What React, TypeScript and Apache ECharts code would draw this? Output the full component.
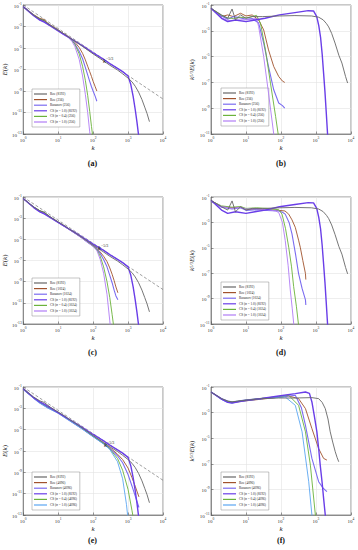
import React, { useEffect, useRef } from "react";
import * as echarts from "echarts";

// ---------- data: panel (a) E(k), 256 ----------
const A_K8192 = [1, 2, 3, 4, 6, 10, 15, 20, 30, 50, 100, 200, 300, 500, 700, 1000, 1300, 1600, 2000, 2500, 3000, 3500, 4096];
const A_roe8192 = [7.08e-2, 1.12e-2, 5.01e-3, 3.55e-3, 1.26e-3, 4.47e-4, 2.0e-4, 1.0e-4, 4.47e-5, 1.41e-5, 2.82e-6, 6.31e-7, 2.51e-7, 8.91e-8, 3.98e-8, 1.58e-8, 7.08e-9, 2.82e-9, 7.94e-10, 1.58e-10, 3.16e-11, 7.94e-12, 1.41e-12];
const A_K8192cs = [1, 2, 3, 4, 6, 10, 15, 20, 30, 50, 100, 200, 300, 500, 700, 1000, 1200, 1400, 1600, 1800, 2000];
const A_cs8192 = [7.08e-2, 1.0e-2, 3.98e-3, 2.51e-3, 1.12e-3, 3.98e-4, 1.78e-4, 1.0e-4, 4.47e-5, 1.58e-5, 3.55e-6, 8.91e-7, 3.55e-7, 1.26e-7, 6.31e-8, 2.51e-8, 3.98e-9, 3.16e-10, 2.0e-11, 1.26e-12, 7.94e-14];
const A_K256 = [1, 2, 3, 4, 5, 6, 8, 10, 12, 15, 20, 25, 30, 40, 50, 60, 70, 80, 90, 100, 115, 128];
const A_roe256 = [7.08e-2, 1.26e-2, 5.62e-3, 4.47e-3, 2.0e-3, 1.41e-3, 7.94e-4, 5.01e-4, 3.16e-4, 2.0e-4, 1.12e-4, 6.31e-5, 3.55e-5, 1.12e-5, 3.16e-6, 7.94e-7, 2.0e-7, 6.31e-8, 2.24e-8, 7.94e-9, 2.51e-9, 1.0e-9];
const A_rus256 = [7.08e-2, 1.12e-2, 4.47e-3, 3.16e-3, 1.78e-3, 1.26e-3, 7.08e-4, 4.47e-4, 2.82e-4, 1.78e-4, 1.0e-4, 5.01e-5, 2.51e-5, 5.01e-6, 1.0e-6, 1.58e-7, 3.16e-8, 7.94e-9, 2.51e-9, 1.0e-9, 3.16e-10, 1.12e-10];
const A_K256s = [1, 2, 3, 4, 5, 6, 8, 10, 12, 15, 20, 25, 30, 40, 50, 60, 70, 80, 90, 100];
const A_cs04_256 = [7.08e-2, 1.12e-2, 5.01e-3, 3.55e-3, 1.78e-3, 1.26e-3, 7.08e-4, 4.47e-4, 2.82e-4, 1.78e-4, 1.0e-4, 5.01e-5, 2.24e-5, 2.82e-6, 2.0e-7, 1.0e-8, 3.98e-10, 1.26e-11, 5.01e-13, 3.16e-14];
const A_cs10_256 = [7.08e-2, 1.0e-2, 3.98e-3, 2.82e-3, 1.58e-3, 1.12e-3, 6.31e-4, 3.98e-4, 2.51e-4, 1.58e-4, 8.91e-5, 3.98e-5, 1.41e-5, 8.91e-7, 2.51e-8, 5.01e-10, 1.0e-11, 1.58e-13, 1.0e-14];

// ---------- panel (b) compensated, 256 ----------
const B_K8192 = [1, 2, 3, 4, 5, 7, 10, 15, 30, 90, 250, 750, 1200, 1600, 2000, 2300, 2800, 3500, 4500, 5500, 7000, 8000];
const B_roe8192 = [5.5e-2, 1.7e-2, 9.33e-3, 4.9e-2, 6.92e-3, 1.7e-2, 9.33e-3, 1.26e-2, 1.26e-2, 1.41e-2, 1.51e-2, 1.41e-2, 1.12e-2, 7.08e-3, 3.55e-3, 2.0e-3, 6.31e-4, 1.12e-4, 1.26e-5, 3.16e-6, 2.82e-7, 8.91e-8];
const B_K8192cs = [1, 2, 3, 5, 10, 18, 35, 90, 250, 600, 850, 1050, 1200, 1350, 1500, 1650, 1800, 1950, 2150];
const B_cs8192 = [5.5e-2, 9.33e-3, 5.13e-3, 6.92e-3, 5.13e-3, 6.92e-3, 9.33e-3, 1.7e-2, 2.57e-2, 3.63e-2, 3.47e-2, 1.26e-2, 2.51e-3, 3.16e-4, 1.58e-5, 5.01e-7, 2.0e-8, 6.31e-10, 7.94e-12];
const B_K256 = [1, 2, 3, 4.4, 7, 10, 15, 23, 32, 44, 62, 86, 110, 128];
const B_roe256 = [5.5e-2, 1.26e-2, 1.7e-2, 1.26e-2, 2.29e-2, 1.41e-2, 1.7e-2, 6.92e-3, 1.17e-3, 3.31e-5, 1.7e-6, 2.88e-7, 1.26e-7, 1.0e-7];
const B_rus256 = [5.5e-2, 1.41e-2, 7.94e-3, 1.26e-2, 1.0e-2, 7.94e-3, 8.91e-3, 3.98e-3, 1.1e-4, 1.7e-6, 2.69e-8, 2.51e-9, 1.58e-9, 1.0e-9];
const B_K256s = [1, 2, 3, 4.4, 7, 10, 15, 20, 26, 36, 50, 70, 83, 90];
const B_cs04_256 = [5.5e-2, 1.58e-2, 1.0e-2, 8.91e-3, 1.12e-2, 1.0e-2, 1.26e-2, 1.58e-2, 3.8e-3, 3.31e-5, 8.71e-8, 2.34e-10, 1.0e-11, 2.51e-12];
const B_K256v = [1, 2, 3, 4.4, 7, 10, 15, 20, 23, 32, 44, 62, 70];
const B_cs10_256 = [5.5e-2, 1.0e-2, 6.31e-3, 6.31e-3, 7.08e-3, 7.08e-3, 7.94e-3, 9.33e-3, 2.09e-3, 1.0e-5, 1.48e-8, 1.0e-11, 1.58e-12];

// ---------- panel (c) E(k), 1024 ----------
const C_K1024 = [1, 2, 3, 4, 6, 10, 15, 20, 30, 50, 70, 100, 130, 160, 200, 250, 300, 350, 400, 450, 512];
const C_roe1024 = [7.08e-2, 1.12e-2, 4.79e-3, 3.16e-3, 1.26e-3, 4.17e-4, 1.78e-4, 9.55e-5, 3.98e-5, 1.26e-5, 5.62e-6, 2.51e-6, 1.26e-6, 6.31e-7, 2.51e-7, 7.94e-8, 2.0e-8, 5.01e-9, 1.26e-9, 3.16e-10, 8.91e-11];
const C_rus1024 = [7.08e-2, 1.12e-2, 4.47e-3, 3.16e-3, 1.26e-3, 3.98e-4, 1.78e-4, 9.55e-5, 3.98e-5, 1.26e-5, 5.37e-6, 2.4e-6, 1.12e-6, 4.47e-7, 1.26e-7, 2.51e-8, 3.98e-9, 7.94e-10, 1.58e-10, 4.47e-11, 2.0e-11];
const C_K1024s = [1, 2, 3, 4, 6, 10, 15, 20, 30, 50, 70, 100, 130, 160, 200, 250, 300, 350, 380, 400];
const C_cs04_1024 = [7.08e-2, 1.12e-2, 5.01e-3, 3.55e-3, 1.26e-3, 4.17e-4, 1.78e-4, 9.55e-5, 3.98e-5, 1.26e-5, 5.37e-6, 2.24e-6, 1.0e-6, 2.51e-7, 2.51e-8, 1.0e-9, 3.16e-11, 7.94e-13, 1.0e-13, 2.51e-14];
const C_K1024v = [1, 2, 3, 4, 6, 10, 15, 20, 30, 50, 70, 100, 130, 160, 200, 250, 300, 320];
const C_cs10_1024 = [7.08e-2, 1.0e-2, 3.98e-3, 2.82e-3, 1.12e-3, 3.8e-4, 1.66e-4, 8.91e-5, 3.8e-5, 1.2e-5, 5.01e-6, 2.14e-6, 7.94e-7, 1.26e-7, 6.31e-9, 6.31e-11, 2.0e-13, 2.51e-14];

// ---------- panel (d) compensated, 1024 ----------
const D_K1024 = [1, 2, 4, 7, 10, 20, 40, 86, 130, 166, 206, 256, 318, 355, 420, 500, 512];
const D_roe1024 = [4.9e-2, 1.78e-2, 1.41e-2, 1.58e-2, 1.0e-2, 1.12e-2, 1.0e-2, 8.91e-3, 7.94e-3, 4.47e-3, 1.58e-3, 4.07e-4, 3.98e-5, 1.12e-5, 1.0e-6, 9.33e-8, 3.16e-8];
const D_K1024r = [1, 2, 4, 7, 10, 20, 40, 86, 110, 132, 170, 206, 260, 318, 400, 500, 512];
const D_rus1024 = [4.9e-2, 1.58e-2, 1.12e-2, 1.41e-2, 8.91e-3, 1.0e-2, 8.91e-3, 7.94e-3, 6.31e-3, 4.47e-3, 1.0e-3, 1.23e-4, 3.16e-6, 9.33e-8, 6.31e-9, 7.94e-10, 3.16e-10];
const D_K1024g = [1, 2, 4, 7, 10, 20, 40, 86, 107, 135, 166, 200, 230, 275, 318];
const D_cs04_1024 = [4.9e-2, 2.0e-2, 1.58e-2, 1.78e-2, 1.26e-2, 1.41e-2, 1.26e-2, 1.0e-2, 4.47e-3, 3.16e-4, 1.12e-5, 3.16e-7, 8.71e-9, 2.51e-10, 7.94e-12];
const D_K1024v = [1, 2, 4, 7, 10, 20, 40, 70, 86, 110, 132, 160, 184, 210, 235];
const D_cs10_1024 = [4.9e-2, 1.78e-2, 1.26e-2, 1.58e-2, 1.12e-2, 1.26e-2, 1.0e-2, 7.94e-3, 6.03e-3, 1.0e-3, 3.72e-5, 3.98e-7, 4.79e-9, 1.58e-10, 6.31e-12];

// ---------- panel (e) E(k), 4096 ----------
const E_K4096 = [1, 2, 3, 5, 10, 20, 30, 50, 100, 200, 300, 500, 700, 1000, 1300, 1600, 2048];
const E_roe4096 = [6.03e-2, 1.0e-2, 3.55e-3, 1.26e-3, 3.98e-4, 8.91e-5, 3.8e-5, 1.26e-5, 2.51e-6, 5.37e-7, 2.09e-7, 5.01e-8, 1.58e-8, 2.51e-9, 3.16e-10, 5.01e-11, 5.01e-12];
const E_rus4096 = [6.03e-2, 8.91e-3, 3.16e-3, 1.12e-3, 3.55e-4, 7.94e-5, 3.39e-5, 1.12e-5, 2.24e-6, 5.01e-7, 1.78e-7, 3.55e-8, 7.94e-9, 6.31e-10, 5.01e-11, 6.31e-12, 5.01e-13];
const E_K4096s = [1, 2, 3, 5, 10, 20, 30, 50, 100, 200, 300, 500, 700, 1000, 1300, 1450];
const E_cs04_4096 = [6.03e-2, 1.0e-2, 3.55e-3, 1.26e-3, 3.98e-4, 8.91e-5, 3.8e-5, 1.2e-5, 2.4e-6, 5.01e-7, 1.58e-7, 2.0e-8, 1.58e-9, 2.51e-11, 2.51e-13, 3.16e-14];
const E_K4096v = [1, 2, 3, 5, 10, 20, 30, 50, 100, 200, 300, 500, 700, 900, 1000];
const E_cs10_4096 = [6.03e-2, 8.91e-3, 3.16e-3, 1.12e-3, 3.55e-4, 7.94e-5, 3.39e-5, 1.12e-5, 2.24e-6, 4.47e-7, 1.41e-7, 1.0e-8, 2.51e-10, 1.0e-12, 3.98e-14];

// ---------- panel (f) compensated, 4096 ----------
const F_K8192 = [1, 2, 3, 4, 6, 10, 28, 86, 256, 764, 1190, 1500, 1840, 2200, 2550, 3000, 3550, 4000, 4460];
const F_roe8192 = [4.07e-2, 1.23e-2, 7.94e-3, 6.76e-3, 7.94e-3, 9.12e-3, 1.23e-2, 1.38e-2, 1.38e-2, 1.48e-2, 1.23e-2, 6.31e-3, 2.04e-3, 3.16e-4, 3.16e-5, 5.01e-6, 8.71e-7, 3.16e-7, 1.45e-7];
const F_K8192cs = [1, 2, 3, 4, 6, 10, 28, 86, 256, 500, 650, 764, 900, 1060, 1200, 1320, 1500, 1650, 1840, 1950];
const F_cs8192 = [4.07e-2, 1.12e-2, 6.31e-3, 5.62e-3, 7.08e-3, 8.91e-3, 1.26e-2, 2.0e-2, 3.02e-2, 4.07e-2, 3.16e-2, 6.76e-3, 5.01e-4, 3.16e-5, 1.26e-6, 7.94e-8, 3.16e-9, 2.0e-10, 1.0e-11, 2.51e-12];
const F_K4096 = [1, 2, 3, 4, 6, 10, 28, 86, 166, 318, 500, 764, 1190, 1650, 2048];
const F_roe4096 = [4.07e-2, 1.12e-2, 7.08e-3, 6.31e-3, 7.08e-3, 8.32e-3, 1.12e-2, 1.58e-2, 2.0e-2, 1.23e-2, 2.04e-3, 5.62e-5, 1.55e-6, 2.63e-7, 1.95e-7];
const F_K4096r = [1, 2, 3, 4, 6, 10, 28, 86, 256, 380, 500, 764, 1190, 1600, 2048];
const F_rus4096 = [4.07e-2, 1.26e-2, 7.94e-3, 7.08e-3, 7.94e-3, 1.0e-2, 1.26e-2, 1.58e-2, 2.24e-2, 2.51e-3, 1.02e-4, 2.63e-7, 3.98e-9, 1.26e-9, 6.61e-10];
const F_K4096g = [1, 2, 3, 4, 6, 10, 28, 86, 166, 318, 500, 690, 960, 1050];
const F_cs04_4096 = [4.07e-2, 1.2e-2, 7.59e-3, 6.61e-3, 7.94e-3, 9.55e-3, 1.32e-2, 1.78e-2, 2.24e-2, 3.72e-3, 3.16e-5, 7.94e-8, 1.0e-11, 1.58e-12];
const F_K4096v = [1, 2, 3, 4, 6, 10, 28, 86, 132, 256, 400, 620, 764, 820];
const F_cs10_4096 = [4.07e-2, 1.07e-2, 6.31e-3, 5.62e-3, 7.08e-3, 8.71e-3, 1.2e-2, 1.58e-2, 1.66e-2, 3.72e-3, 3.16e-5, 3.98e-9, 1.0e-11, 1.58e-12];

// reference slope line (dashed)
const REF_K = [1, 10000];
const REF_E = [1.0e-1, 1.8e-10];

// legend names
const names = (n: string) => [
  "Roe (8192)",
  `Roe (${n})`,
  `Rusanov (${n})`,
  "CS (σ = 1.0) (8192)",
  `CS (σ = 0.4) (${n})`,
  `CS (σ = 1.0) (${n})`,
];
const N256 = names("256");
const N1024 = names("1024");
const N4096 = names("4096");

const SERIF = '"Liberation Serif", "DejaVu Serif", serif';
const C_ROEHI = "#676767";
const C_ROELO = "#a0522d";
const C_RUS = "#7b6cf0";
const C_CSHI = "#6a3ee8";
const C_CS04 = "#6bb23a";
const C_CS10V = "#b07cf5";
const C_CS10B = "#5aa6f2";

type Curve = { name: string; color: string; width: number; k: number[]; v: number[] };

const zip = (k: number[], v: number[]) => v.map((y, i) => [k[i], y]);

const mk = (nm: string[], c10: string, d: number[][][]): Curve[] => [
  { name: nm[1], color: C_ROELO, width: 0.9, k: d[1][0], v: d[1][1] },
  { name: nm[2], color: C_RUS, width: 1.1, k: d[2][0], v: d[2][1] },
  { name: nm[4], color: C_CS04, width: 0.9, k: d[4][0], v: d[4][1] },
  { name: nm[5], color: c10, width: 0.9, k: d[5][0], v: d[5][1] },
  { name: nm[3], color: C_CSHI, width: 1.4, k: d[3][0], v: d[3][1] },
  { name: nm[0], color: C_ROEHI, width: 0.9, k: d[0][0], v: d[0][1] },
];

const PANELS = [
  {
    names: N256, comp: false, letter: "(a)",
    curves: mk(N256, C_CS10V, [[A_K8192, A_roe8192], [A_K256, A_roe256], [A_K256, A_rus256], [A_K8192cs, A_cs8192], [A_K256s, A_cs04_256], [A_K256s, A_cs10_256]]),
  },
  {
    names: N256, comp: true, letter: "(b)",
    curves: mk(N256, C_CS10V, [[B_K8192, B_roe8192], [B_K256, B_roe256], [B_K256, B_rus256], [B_K8192cs, B_cs8192], [B_K256s, B_cs04_256], [B_K256v, B_cs10_256]]),
  },
  {
    names: N1024, comp: false, letter: "(c)",
    curves: mk(N1024, C_CS10V, [[A_K8192, A_roe8192], [C_K1024, C_roe1024], [C_K1024, C_rus1024], [A_K8192cs, A_cs8192], [C_K1024s, C_cs04_1024], [C_K1024v, C_cs10_1024]]),
  },
  {
    names: N1024, comp: true, letter: "(d)",
    curves: mk(N1024, C_CS10V, [[B_K8192, B_roe8192], [D_K1024, D_roe1024], [D_K1024r, D_rus1024], [B_K8192cs, B_cs8192], [D_K1024g, D_cs04_1024], [D_K1024v, D_cs10_1024]]),
  },
  {
    names: N4096, comp: false, letter: "(e)",
    curves: mk(N4096, C_CS10B, [[A_K8192, A_roe8192], [E_K4096, E_roe4096], [E_K4096, E_rus4096], [A_K8192cs, A_cs8192], [E_K4096s, E_cs04_4096], [E_K4096v, E_cs10_4096]]),
  },
  {
    names: N4096, comp: true, letter: "(f)",
    curves: mk(N4096, C_CS10B, [[F_K8192, F_roe8192], [F_K4096, F_roe4096], [F_K4096r, F_rus4096], [F_K8192cs, F_cs8192], [F_K4096g, F_cs04_4096], [F_K4096v, F_cs10_4096]]),
  },
];

const GRIDS = [
  { left: 22, top: 5, width: 141, height: 129 },
  { left: 211, top: 5, width: 140, height: 129 },
  { left: 22, top: 197, width: 141, height: 127 },
  { left: 211, top: 197, width: 140, height: 127 },
  { left: 22, top: 387, width: 141, height: 128 },
  { left: 211, top: 387, width: 140, height: 128 },
];

const LEGEND_POS = [
  { left: 32, top: 89 },
  { left: 221, top: 88 },
  { left: 32, top: 278 },
  { left: 221, top: 282 },
  { left: 32, top: 472 },
  { left: 221, top: 472 },
];

const LETTER_Y = [163, 163, 352, 352, 540, 540];
const SLOPE_LABEL = [
  { x: 103, y: 56 },
  null,
  { x: 98, y: 243 },
  null,
  { x: 104, y: 440 },
  null,
];

const tickFmt = (v: number) => `{b|10}{s|${Math.round(Math.log10(v))}}`;
const tickRich = {
  b: { fontSize: 5, fontFamily: SERIF, color: "#333", lineHeight: 7, verticalAlign: "bottom" },
  s: { fontSize: 3.6, fontFamily: SERIF, color: "#333", lineHeight: 4, verticalAlign: "top" },
};
const nameRich = {
  i: { fontStyle: "italic", fontSize: 7, fontFamily: SERIF, color: "#222", lineHeight: 7, verticalAlign: "bottom" },
  n: { fontSize: 7, fontFamily: SERIF, color: "#222", lineHeight: 7, verticalAlign: "bottom" },
  s: { fontSize: 4.5, fontFamily: SERIF, color: "#222", lineHeight: 4, verticalAlign: "top" },
};

function buildOption() {
  const grid = GRIDS.map((g) => ({ ...g, show: true, borderColor: "#777", borderWidth: 0.8, backgroundColor: "#fff" }));
  const xAxis = GRIDS.map((_, i) => ({
    type: "log",
    logBase: 10,
    gridIndex: i,
    min: 1,
    max: 10000,
    interval: 1,
    name: "{i|k}",
    nameLocation: "middle",
    nameGap: 10,
    nameTextStyle: { rich: nameRich },
    axisLine: { show: true, lineStyle: { color: "#777", width: 0.8 } },
    axisTick: { show: true, inside: true, length: 2.5, lineStyle: { color: "#555", width: 0.6 } },
    splitLine: { show: true, lineStyle: { color: "#e3e3e3", width: 0.6 } },
    axisLabel: { formatter: tickFmt, rich: tickRich, margin: 1.5 },
  }));
  const yAxis = PANELS.map((p, i) => ({
    type: "log",
    logBase: 10,
    gridIndex: i,
    min: p.comp ? 1e-11 : 1e-13,
    max: 1e-1,
    interval: 2,
    name: p.comp ? "{i|k}{s|5/3}{i|E}{n|(}{i|k}{n|)}" : "{i|E}{n|(}{i|k}{n|)}",
    nameLocation: "middle",
    nameRotate: 90,
    nameGap: p.comp ? 13 : 14,
    nameTextStyle: { rich: nameRich },
    axisLine: { show: true, lineStyle: { color: "#777", width: 0.8 } },
    axisTick: { show: true, inside: true, length: 2.5, lineStyle: { color: "#555", width: 0.6 } },
    splitLine: { show: true, lineStyle: { color: "#e3e3e3", width: 0.6 } },
    axisLabel: { formatter: tickFmt, rich: tickRich, margin: 1.5 },
  }));

  const series: any[] = [];
  PANELS.forEach((p, i) => {
    if (!p.comp) {
      series.push({
        type: "line",
        name: "ref",
        xAxisIndex: i,
        yAxisIndex: i,
        data: zip(REF_K, REF_E),
        symbol: "none",
        silent: true,
        lineStyle: { color: "#777", width: 0.7, type: [3, 2] },
        z: 1,
      });
    }
    p.curves.forEach((c, j) => {
      series.push({
        type: "line",
        name: c.name,
        xAxisIndex: i,
        yAxisIndex: i,
        data: zip(c.k, c.v),
        symbol: "none",
        showSymbol: false,
        silent: true,
        clip: true,
        color: c.color,
        lineStyle: { color: c.color, width: c.width },
        itemStyle: { color: c.color },
        z: 2 + j,
      });
    });
  });

  const legend = PANELS.map((p, i) => ({
    ...LEGEND_POS[i],
    orient: "vertical",
    data: p.names,
    icon: "rect",
    itemWidth: 13,
    itemHeight: 1.2,
    itemGap: 1.6,
    padding: [3, 3, 3, 2],
    backgroundColor: "#fff",
    borderColor: "#888",
    borderWidth: 0.5,
    selectedMode: false,
    textStyle: { fontSize: 3.4, lineHeight: 4, fontFamily: SERIF, color: "#222", padding: [0, 0, 0, -2] },
  }));

  const graphic: any[] = [];
  PANELS.forEach((p, i) => {
    const g = GRIDS[i];
    graphic.push({
      type: "text",
      x: g.left + g.width / 2,
      y: LETTER_Y[i],
      style: { text: p.letter, font: `bold 8px ${SERIF}`, fill: "#111", align: "center", verticalAlign: "middle" },
    });
    const s = SLOPE_LABEL[i];
    if (s) {
      graphic.push({
        type: "text",
        x: s.x,
        y: s.y,
        style: {
          text: "{i|k}{s|−5/3}",
          rich: {
            i: { fontStyle: "italic", fontSize: 6.5, fontFamily: SERIF, fill: "#222", lineHeight: 8, verticalAlign: "bottom" },
            s: { fontSize: 4, fontFamily: SERIF, fill: "#222", lineHeight: 4.5, verticalAlign: "top" },
          },
        },
        z: 100,
      });
    }
  });

  return {
    animation: false,
    backgroundColor: "#fff",
    grid,
    xAxis,
    yAxis,
    series,
    legend,
    graphic,
  };
}

export default function App() {
  const ref = useRef<HTMLDivElement>(null);
  useEffect(() => {
    const chart = echarts.init(ref.current!, null, { renderer: "svg" });
    chart.setOption(buildOption() as any);
    return () => chart.dispose();
  }, []);
  return (
    <div
      ref={ref}
      style={{ position: "absolute", left: 0, top: 0, width: 358, height: 550, background: "#fff" }}
    />
  );
}
